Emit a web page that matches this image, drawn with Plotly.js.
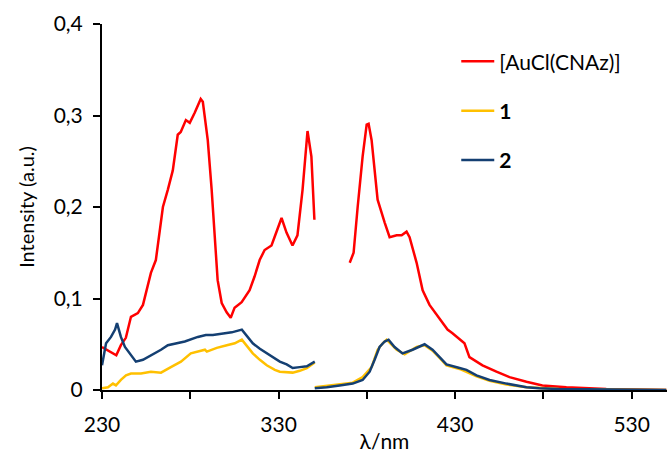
<!DOCTYPE html>
<html>
<head>
<meta charset="utf-8">
<script src="https://cdn.plot.ly/plotly-3.0.1.min.js"></script>
<style>html,body{margin:0;padding:0;background:#fff;}#chart{width:667px;height:453px;}</style>
</head>
<body>
<div id="chart"></div>
<script>
// Wavelength (nm) / intensity (a.u.); null = gap in the spectrum
const redX = [230.0,236.2,238.1,240.7,243.5,246.4,250.3,253.2,256.0,257.7,260.5,262.8,264.5,267.3,270.1,272.9,274.6,277.5,279.7,282.5,285.4,285.9,287.1,289.9,292.1,293.8,295.5,297.8,300.6,302.9,305.1,309.1,313.6,316.4,319.3,322.1,326.0,327.7,331.7,334.5,337.9,340.7,343.6,346.4,348.6,350.3,
  360.0,
  370.3,372.5,374.8,377.6,379.9,381.0,382.7,386.1,390.1,392.9,396.9,399.7,402.5,404.2,408.2,411.6,415.5,421.2,425.7,428.5,435.3,438.1,445.5,453.4,460.8,470.4,479.4,493.0,515.6,549.6];
const redY = [0.047,0.040,0.038,0.049,0.057,0.080,0.084,0.093,0.113,0.128,0.142,0.175,0.200,0.219,0.240,0.279,0.282,0.295,0.292,0.303,0.315,0.318,0.315,0.273,0.219,0.164,0.120,0.095,0.085,0.079,0.090,0.096,0.109,0.124,0.142,0.153,0.158,0.167,0.188,0.172,0.158,0.169,0.219,0.283,0.255,0.186,
  null,
  0.139,0.150,0.200,0.255,0.290,0.291,0.273,0.208,0.183,0.167,0.169,0.169,0.173,0.167,0.139,0.109,0.093,0.078,0.066,0.062,0.051,0.036,0.027,0.020,0.014,0.009,0.005,0.003,0.001,0.000];

const s1X = [230.0,233.4,236.2,237.9,240.7,243.6,246.4,252.1,257.7,263.4,269.0,274.7,280.3,284.3,288.3,289.4,295.0,300.7,305.2,309.2,312.6,315.4,319.4,323.3,327.9,330.7,338.0,342.0,346.0,350.5,
  350.5,
  350.5,359.0,372.0,377.6,382.7,386.1,389.0,391.2,396.9,401.4,408.2,412.7,417.2,421.2,425.1,432.5,442.1,449.5,459.1,470.4,489.0,549.6];
const s1Y = [0.002,0.003,0.007,0.005,0.011,0.016,0.018,0.018,0.020,0.019,0.025,0.031,0.040,0.042,0.044,0.042,0.046,0.049,0.051,0.055,0.047,0.040,0.033,0.027,0.022,0.020,0.019,0.021,0.024,0.030,
  null,
  0.003,0.005,0.008,0.014,0.025,0.044,0.051,0.055,0.044,0.039,0.047,0.049,0.043,0.035,0.027,0.023,0.015,0.010,0.006,0.003,0.001,0.000];

const s2X = [230.0,232.3,235.1,237.4,238.5,240.7,243.0,245.8,249.2,253.2,256.0,260.0,263.4,267.3,271.3,276.9,284.3,288.8,292.8,298.4,303.5,309.2,312.6,315.4,319.4,323.3,327.9,330.7,334.6,338.0,342.0,346.0,350.5,
  350.5,
  350.5,357.3,364.6,372.0,377.6,381.6,384.4,387.2,390.1,392.3,395.7,400.2,405.9,411.6,412.7,417.2,421.2,425.1,432.5,436.4,442.1,449.5,459.1,470.4,477.7,489.0,549.6];
const s2Y = [0.027,0.051,0.058,0.066,0.073,0.058,0.047,0.040,0.031,0.033,0.036,0.040,0.044,0.049,0.051,0.053,0.058,0.060,0.060,0.062,0.063,0.066,0.058,0.051,0.045,0.040,0.034,0.031,0.028,0.024,0.025,0.026,0.031,
  null,
  0.002,0.003,0.005,0.007,0.011,0.020,0.033,0.047,0.053,0.055,0.047,0.040,0.044,0.049,0.050,0.044,0.036,0.028,0.024,0.022,0.016,0.011,0.007,0.003,0.002,0.001,0.000];

const seriesNames = ['[AuCl(CNAz)]', '<b>1</b>', '<b>2</b>'];
const seriesColors = ['#ff0000', '#ffc000', '#143f72'];

const xTickVals = [230, 280, 330, 380, 430, 480, 530];
const xTickText = ['230', '', '330', '', '430', '', '530'];
const yTickVals = [0, 0.1, 0.2, 0.3, 0.4];
const yTickText = ['0', '0,1', '0,2', '0,3', '0,4'];

const FONT = 'Lato, "Open Sans", sans-serif';

const traces = [[redX, redY], [s1X, s1Y], [s2X, s2Y]].map((d, i) => ({
  x: d[0], y: d[1], type: 'scatter', mode: 'lines', name: seriesNames[i],
  legendgroup: 'g' + i, connectgaps: false,
  line: {color: seriesColors[i], width: 2.5}
}));

const layout = {
  width: 667, height: 453,
  margin: {l: 102, r: 0, t: 24, b: 63},
  paper_bgcolor: '#fff', plot_bgcolor: '#fff',
  font: {family: FONT, size: 21, color: '#000'},
  showlegend: true,
  legend: {x: 0.627, y: 0.953, xanchor: 'left', yanchor: 'top', traceorder: 'grouped', tracegroupgap: 19,
           itemwidth: 33,
           font: {family: FONT, size: 21, color: '#000'}, bgcolor: 'rgba(0,0,0,0)'},
  xaxis: {range: [230, 550], tickvals: xTickVals, ticktext: xTickText, showgrid: false, zeroline: false,
          showline: true, linecolor: '#000', linewidth: 2, ticks: 'outside', ticklen: 7, tickwidth: 2, tickcolor: '#000',
          ticklabelstandoff: 8,
          title: {text: 'λ/nm', font: {family: FONT, size: 21}, standoff: 4}},
  yaxis: {range: [0, 0.4], tickvals: yTickVals, ticktext: yTickText, showgrid: false, zeroline: false,
          showline: true, linecolor: '#000', linewidth: 2, ticks: 'outside', ticklen: 7, tickwidth: 2, tickcolor: '#000',
          ticklabelstandoff: 6,
          title: {text: 'Intensity (a.u.)', font: {family: FONT, size: 20}, standoff: 14}}
};

Plotly.newPlot('chart', traces, layout, {displayModeBar: false, staticPlot: true});
</script>
</body>
</html>
